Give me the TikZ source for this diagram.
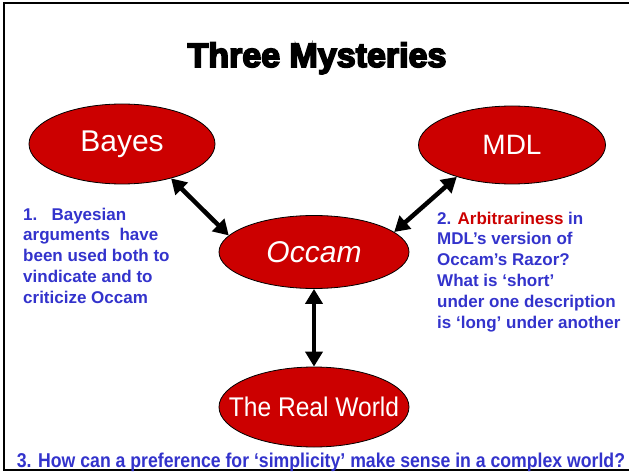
\documentclass[tikz,border=0pt]{standalone}
\usepackage{fontspec}
\setmainfont{Liberation Sans}
\newfontfamily\heavyfont[BoldFeatures={FakeBold=5}]{Liberation Sans}
\usetikzlibrary{shapes.geometric,arrows.meta}
\definecolor{slidered}{HTML}{CC0000}
\definecolor{slideblue}{HTML}{3333CC}
\begin{document}
\begin{tikzpicture}[x=1pt,y=-1pt,
    mystery/.style={ellipse, draw=black, line width=0.8pt, fill=slidered, text=white, inner sep=0pt},
    link/.style={line width=4.5pt, {Triangle[length=15pt,width=17pt]}-{Triangle[length=15pt,width=17pt]}},
    note/.style={text=slideblue, align=left, inner sep=0pt, font=\fontsize{17}{20.8}\selectfont\bfseries}]
  \useasboundingbox (0,0) rectangle (629,473);
  \fill[white] (0,0) rectangle (629,473);
  \draw[line width=2.5pt] (640,3) -- (4,3) -- (4,470) -- (640,470);
  \node[anchor=base, font=\fontsize{34}{40}\selectfont\heavyfont\bfseries] (title) at (317,67) {Three Mysteries};
  \node[mystery, minimum width=186pt, minimum height=80pt, font=\fontsize{30}{36}\selectfont] (bayes) at (122,144) {Bayes};
  \node[mystery, minimum width=187pt, minimum height=78pt, font=\fontsize{28}{34}\selectfont] (mdl) at (512,145) {MDL};
  \node[mystery, minimum width=190pt, minimum height=73pt, font=\fontsize{30}{36}\selectfont\itshape] (occam) at (314,252) {Occam};
  \node[mystery, minimum width=190pt, minimum height=80pt, font=\fontsize{27}{32}\selectfont] (world) at (314,407) {\makebox[0pt]{\scalebox{0.91}[1]{The Real World}}};
  \draw[link] (bayes.-35) -- (occam.169);
  \draw[link] (mdl.210) -- (occam.14);
  \draw[link] (occam.south) -- (world.north);
  \node[note, anchor=base west] (bayesnote) at (23,303.2) {1.\ \ \ Bayesian\\arguments\ \ have\\been used both to\\vindicate and to\\criticize Occam};
  \node[note, anchor=base west] (mdlnote) at (437,328) {2. \textcolor{slidered}{Arbitrariness} in\\MDL’s version of\\Occam’s Razor?\\What is ‘short’\\under one description\\is ‘long’ under another};
  \node[anchor=base, text=slideblue, inner sep=0pt, font=\fontsize{20}{24}\selectfont\bfseries] (question) at (321,467) {\scalebox{0.883}[1]{3. How can a preference for ‘simplicity’ make sense in a complex world?}};
\end{tikzpicture}
\end{document}
